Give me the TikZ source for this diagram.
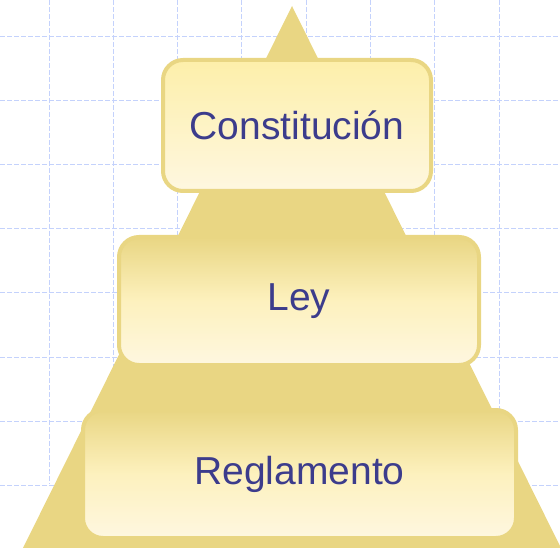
\documentclass[tikz,border=0pt]{standalone}
\usepackage{fontspec}
\setmainfont{Liberation Sans}
\usetikzlibrary{positioning, calc}

\begin{document}
\begin{tikzpicture}[
    x=1pt, y=-1pt,
    gridline/.style={draw=gridblue, line width=0.9pt, dash pattern=on 5pt off 2pt},
    level/.style={rectangle, rounded corners=20pt, draw=pyramidgold, line width=4pt, inner sep=0pt, anchor=center, text=textblue, font=\fontsize{39}{47}\selectfont},
    topbox/.style={level, top color=boxtop, bottom color=boxbottom},
    lowbox/.style={level, top color=pyramidgold, bottom color=boxbottom, middle color=boxmid}
]

% Define colors
\definecolor{gridblue}{RGB}{196,210,252}
\definecolor{pyramidgold}{RGB}{233,214,131}
\definecolor{boxtop}{RGB}{253,239,170}
\definecolor{boxmid}{RGB}{253,241,190}
\definecolor{boxbottom}{RGB}{254,247,224}
\definecolor{textblue}{RGB}{60,60,140}

\useasboundingbox (0,0) rectangle (560,548);

% --- Background grid ---
\foreach \i in {0,...,7} {
    \draw[gridline] (49+64.3*\i, 0) -- (49+64.3*\i, 484);
    \draw[gridline] (0, 36+64.2*\i) -- (560, 36+64.2*\i);
}

% --- Pyramid ---
\fill[pyramidgold] (292,6) -- (23,548) -- (561,548) -- cycle;

% --- Levels ---
\node[topbox, minimum width=268pt, minimum height=131pt] (constitucion) at (297,125.5) {Constitución};
\node[lowbox, minimum width=360pt, minimum height=128pt] (ley) at (299,301) {Ley};
\node[lowbox, minimum width=433pt, minimum height=128pt] (reglamento) at (299.5,474) {Reglamento};

\end{tikzpicture}
\end{document}
